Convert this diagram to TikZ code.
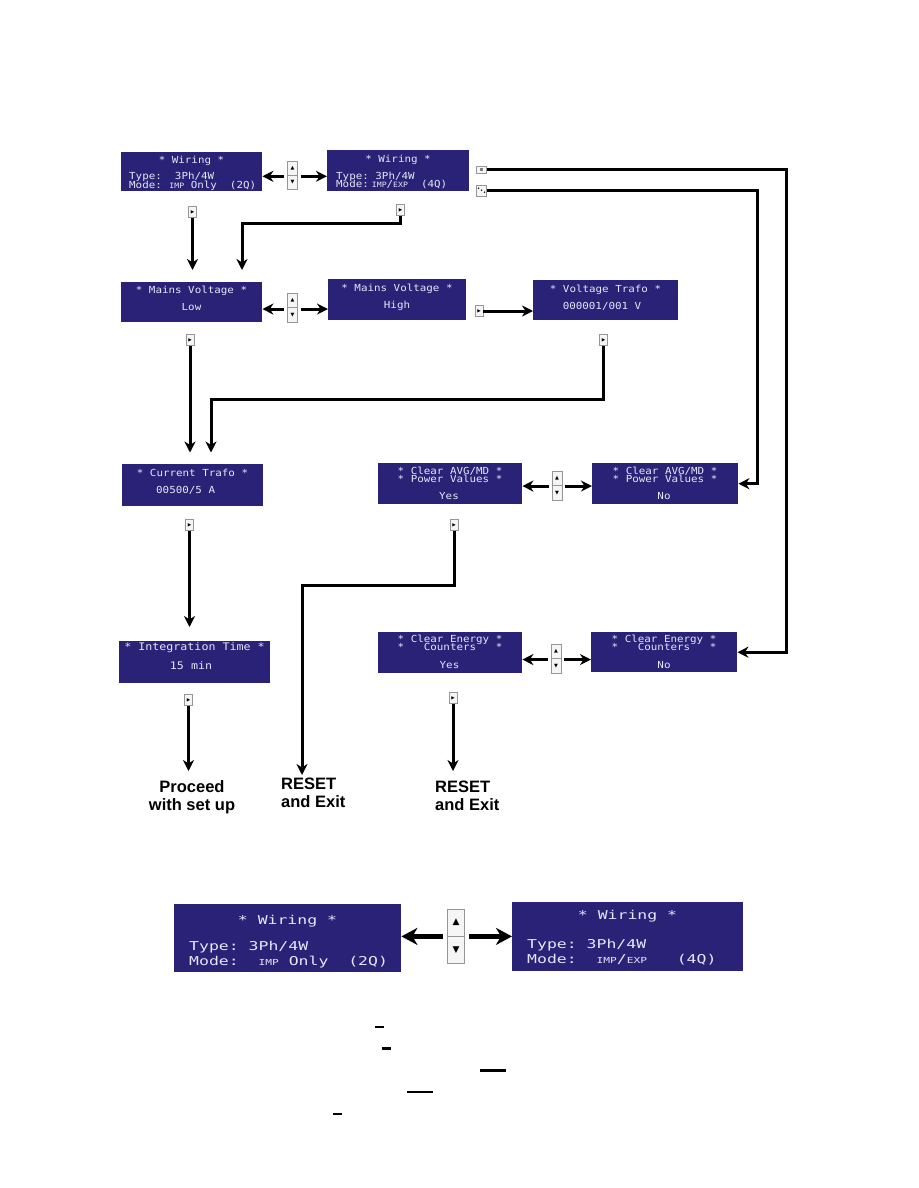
\documentclass[tikz,border=0pt]{standalone}
\usepackage{fontspec}
\usetikzlibrary{arrows.meta,calc}
\newfontfamily\lcdfont{DejaVu Sans Mono}[FakeStretch=1.12]
\newfontfamily\lcdbig{DejaVu Sans Mono}[FakeStretch=1.35]
\newfontfamily\symfont{DejaVu Sans}
\newfontfamily\labfont{Liberation Sans}
\definecolor{lcdbg}{RGB}{42,34,118}
\definecolor{lcdfg}{RGB}{230,230,248}
\definecolor{btnedge}{RGB}{150,150,150}
\definecolor{btnfill}{RGB}{245,245,245}
\newcommand\sm[1]{{\fontsize{7.3}{7.3}\selectfont #1}}
\newcommand\smb[1]{{\fontsize{8.3}{8.3}\selectfont #1}}
\begin{document}
\begin{tikzpicture}[x=1pt,y=-1pt,
  lcd/.style={fill=lcdbg,inner sep=0,anchor=north west},
  lt/.style={text=lcdfg,inner sep=0,anchor=base,font=\lcdfont\fontsize{9.7}{9.7}\selectfont},
  ltl/.style={lt,anchor=base west},
  lti/.style={lt,font=\lcdfont\fontsize{10.4}{10.4}\selectfont},
  bt/.style={text=lcdfg,inner sep=0,anchor=base,font=\lcdbig\fontsize{12.2}{12.2}\selectfont},
  btl/.style={bt,anchor=base west},
  btn/.style={draw=btnedge,fill=btnfill,line width=0.6pt,inner sep=0,minimum width=8pt,minimum height=11pt,font=\symfont\fontsize{4.5}{4.5}\selectfont},
  udb/.style={draw=btnedge,fill=btnfill,line width=0.6pt,inner sep=0,minimum width=10pt,minimum height=14.5pt,font=\symfont\fontsize{5}{5}\selectfont},
  bigud/.style={draw=btnedge,fill=btnfill,line width=0.8pt,inner sep=0,minimum width=17pt,minimum height=27pt,font=\symfont\fontsize{9}{9}\selectfont},
  icon/.style={draw=btnedge,fill=btnfill,line width=0.5pt,inner sep=0,minimum width=10pt},
  conn/.style={line width=3pt,-{Stealth[length=11pt,width=11pt,inset=3.5pt]}},
  bigarr/.style={line width=4.5pt,-{Stealth[length=16pt,width=17pt,inset=5pt]}},
  lab/.style={inner sep=0,font=\labfont\bfseries\fontsize{16.5}{18}\selectfont}
]
\fill[white] (0,0) rectangle (918,1188);
\path[use as bounding box] (0,0) rectangle (918,1188);

% ---------- top row: wiring
\node[lcd,minimum width=141pt,minimum height=39pt] (w1) at (121,152) {};
\node[lt] (w1a) at (191.5,163.5) {* Wiring *};
\node[ltl] (w1b) at (129,179.3) {Type:~~3Ph/4W};
\node[ltl] (w1c) at (129,188) {Mode:~\hspace{1pt}\sm{IMP}~Only~~(2Q)};
\node[lcd,minimum width=142pt,minimum height=41pt] (w2) at (327,150) {};
\node[lt] (w2a) at (398,162) {* Wiring *};
\node[ltl] (w2b) at (336,179) {Type:~3Ph/4W};
\node[ltl] (w2c) at (336,187.7) {Mode:\hspace{3pt}\sm{IMP}/\sm{EXP}~~(4Q)};
\node[udb,minimum height=14pt] (u1a) at (292.5,168) {▲};
\node[udb,minimum height=14pt] (u1b) at (292.5,182) {▼};
\draw[conn] ($(u1a.south west)+(-3,1)$) -- ($(u1a.south west -| w1.east)+(0,1)$);
\draw[conn] ($(u1a.south east)+(3,1)$) -- ($(u1a.south east -| w2.west)+(0,1)$);
\node[icon,minimum height=7pt] (ic1) at (481.5,169.5) {{\color{gray}\rule{3pt}{2.5pt}}};
\node[icon,minimum height=11pt] (ic2) at (481.5,190.7) {};
\fill ($(ic2.center)+(-3,-2.5)$) circle (0.8);
\fill ($(ic2.center)+(0,-0.5)$) circle (0.8);
\fill ($(ic2.center)+(3,1.5)$) circle (0.8);
\node[btn] (pw1) at (192.5,212) {▶};
\node[btn] (pw2) at (400.5,210) {▶};

% ---------- mains voltage row
\node[lcd,minimum width=141pt,minimum height=40pt] (mvl) at (121,282) {};
\node[lt] (mvla) at (191.5,293.5) {* Mains Voltage *};
\node[lt] (mvlb) at (191.5,310.5) {Low};
\node[lcd,minimum width=138pt,minimum height=41pt] (mvh) at (328,279) {};
\node[lt] (mvha) at (397,291.5) {* Mains Voltage *};
\node[lt] (mvhb) at (397,308.5) {High};
\node[lcd,minimum width=145pt,minimum height=40pt] (vt) at (533,280) {};
\node[lt] (vta) at (605.5,292) {* Voltage Trafo *};
\node[lt] (vtb) at (602,309) {000001/001 V};
\node[udb] (u2a) at (292.5,300.5) {▲};
\node[udb] (u2b) at (292.5,315) {▼};
\draw[conn] ($(u2a.south west)+(-3,1)$) -- ($(u2a.south west -| mvl.east)+(0,1)$);
\draw[conn] ($(u2a.south east)+(3,1)$) -- ($(u2a.south east -| mvh.west)+(0,1)$);
\node[btn] (ph) at (479,311) {▶};
\node[btn] (pl) at (190,340) {▶};
\node[btn] (pvt) at (603.5,340) {▶};

% ---------- current trafo / clear AVG row
\node[lcd,minimum width=141pt,minimum height=42pt] (ct) at (122,464) {};
\node[lt] (cta) at (192.5,476) {* Current Trafo *};
\node[lt,anchor=base west] (ctb) at (156,493) {00500/5 A};
\node[lcd,minimum width=144pt,minimum height=41pt] (avy) at (378,463) {};
\node[lt] (avya) at (450,474) {* Clear AVG/MD *};
\node[lt] (avyb) at (450,482) {* Power Values *};
\node[lt] (avyc) at (449,499) {Yes};
\node[lcd,minimum width=146pt,minimum height=41pt] (avn) at (592,463) {};
\node[lt] (avna) at (665,474) {* Clear AVG/MD *};
\node[lt] (avnb) at (665,482) {* Power Values *};
\node[lt] (avnc) at (664,499) {No};
\node[udb] (u3a) at (557,478.5) {▲};
\node[udb] (u3b) at (557,493) {▼};
\draw[conn] ($(u3a.south west)+(-3,0)$) -- (u3a.south west -| avy.east);
\draw[conn] ($(u3a.south east)+(3,0)$) -- (u3a.south east -| avn.west);
\node[btn] (pct) at (189.5,525) {▶};
\node[btn] (pay) at (454,525) {▶};

% ---------- integration / clear energy row
\node[lcd,minimum width=151pt,minimum height=42pt] (it) at (119,641) {};
\node[lti] (ita) at (194.5,650.5) {* Integration Time *};
\node[lti] (itb) at (191,669) {15 min};
\node[lcd,minimum width=144pt,minimum height=41pt] (eny) at (378,632) {};
\node[lt] (enya) at (450,642.5) {* Clear Energy *};
\node[lt] (enyb) at (450,650.5) {*~~~Counters~~~*};
\node[lt] (enyc) at (449.5,668.5) {Yes};
\node[lcd,minimum width=146pt,minimum height=40pt] (enn) at (591,632) {};
\node[lt] (enna) at (664,642.5) {* Clear Energy *};
\node[lt] (ennb) at (664,650.5) {*~~~Counters~~~*};
\node[lt] (ennc) at (664,668.5) {No};
\node[udb] (u4a) at (556,651.5) {▲};
\node[udb] (u4b) at (556,666) {▼};
\draw[conn] ($(u4a.south west)+(-3,0.5)$) -- ($(u4a.south west -| eny.east)+(0,0.5)$);
\draw[conn] ($(u4a.south east)+(3,0.5)$) -- ($(u4a.south east -| enn.west)+(0,0.5)$);
\node[btn] (pit) at (188.5,700) {▶};
\node[btn] (pey) at (453,698) {▶};

% ---------- end labels
\node[lab,align=center,anchor=north] (proc) at (192,780) {Proceed\\with set up};
\node[lab,align=left,anchor=north west] (rs1) at (281,778) {RESET\\and Exit};
\node[lab,align=left,anchor=north west] (rs2) at (435,781) {RESET\\and Exit};

% ---------- connectors
\coordinate (k1) at (242,223.5);
\coordinate (k2) at (211,399.5);
\coordinate (k3) at (302,585);
\coordinate (k4) at (786,169.5);
\coordinate (k5) at (757,190.7);
\draw[conn,shorten >=12pt] (pw1.south) -- (pw1 |- mvl.north);
\draw[conn,shorten >=12pt] (pw2.south) |- (k1) -- (k1 |- mvl.north);
\draw[conn,shorten >=11.5pt] (pl.south) -- (pl |- ct.north);
\draw[conn,shorten >=11.5pt] (pvt.south) |- (k2) -- (k2 |- ct.north);
\draw[conn] (ph.east) -- (ph -| vt.west);
\draw[conn,shorten >=14pt] (pct.south) -- (pct |- it.north);
\draw[conn,shorten >=9pt] (pit.south) -- (pit |- proc.north);
\draw[conn,shorten >=3pt] (pay.south) |- (k3) -- (k3 |- rs1.north);
\draw[conn,shorten >=10pt] (pey.south) -- (pey |- rs2.north);
\draw[conn] (ic1.east) -- (k4) |- (enn.east);
\draw[conn] (ic2.east) -- (k5) |- (avn.east);

% ---------- enlarged wiring detail
\node[lcd,minimum width=227pt,minimum height=68pt] (bw1) at (174,904) {};
\node[bt] (bw1a) at (287.5,924) {* Wiring *};
\node[btl] (bw1b) at (189,950) {Type:~3Ph/4W};
\node[btl] (bw1c) at (189,965) {Mode:~~\smb{IMP}~Only~~(2Q)};
\node[lcd,minimum width=231pt,minimum height=69pt] (bw2) at (512,902) {};
\node[bt] (bw2a) at (627.5,919.3) {* Wiring *};
\node[btl] (bw2b) at (527,948.3) {Type:~3Ph/4W};
\node[btl] (bw2c) at (527,963.3) {Mode:~~\smb{IMP}/\smb{EXP}~~~(4Q)};
\node[bigud] (bua) at (456,922.5) {▲};
\node[bigud] (bub) at (456,950) {▼};
\draw[bigarr] ($(bua.south west)+(-4,0)$) -- (bua.south west -| bw1.east);
\draw[bigarr] ($(bua.south east)+(4,0)$) -- (bua.south east -| bw2.west);

% ---------- underline marks
\fill (375,1025.5) rectangle (384,1027.8);
\fill (382,1047.3) rectangle (391,1049.6);
\fill (480,1069.2) rectangle (506,1071.5);
\fill (407,1091) rectangle (433,1093.3);
\fill (333,1112.5) rectangle (342,1114.8);
\end{tikzpicture}
\end{document}
